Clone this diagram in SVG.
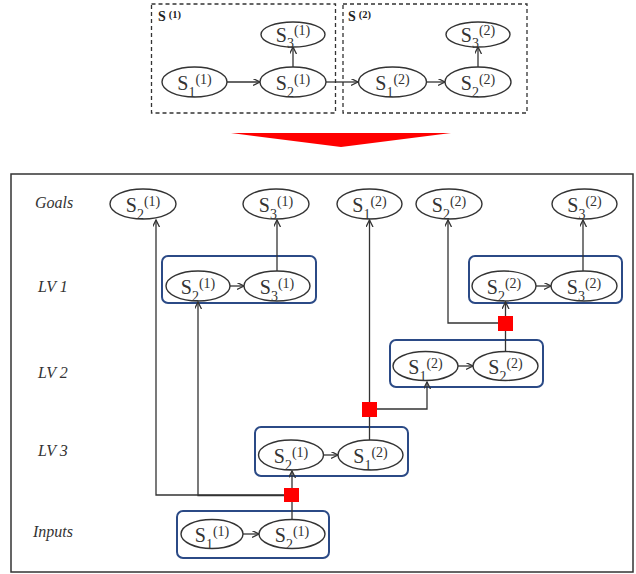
<svg xmlns="http://www.w3.org/2000/svg" width="636" height="574" viewBox="0 0 636 574">
<style>
.el{fill:#fff;stroke:#333;stroke-width:1.4}
.lv{fill:none;stroke:#2b4a86;stroke-width:2}
.dash{fill:none;stroke:#333;stroke-width:1.3;stroke-dasharray:4,3}
.ln{fill:none;stroke:#333;stroke-width:1.3}
.nt{font-family:"Liberation Serif",serif;font-size:20px;fill:#333;text-anchor:middle}
.sm{font-size:14px}
.rl{font-family:"Liberation Serif",serif;font-style:italic;font-size:16px;fill:#333}
.bt{font-family:"Liberation Serif",serif;font-weight:bold;font-size:14px;fill:#222}
.bs{font-size:10.5px}
.red{fill:#ff0000}
</style>
<defs>
<marker id="ar" markerUnits="userSpaceOnUse" markerWidth="10" markerHeight="10" refX="7" refY="3.5" orient="auto">
<path d="M0,0 L7,3.5 L0,7" fill="none" stroke="#333" stroke-width="1.3"/>
</marker>
</defs>

<!-- top section -->
<g id="top-s1-box">
<rect class="dash" x="151.5" y="4" width="184" height="109"/>
<text class="bt" x="158" y="21">S<tspan class="bs" dx="3" dy="-3">(1)</tspan></text>
</g>
<g id="top-s2-box">
<rect class="dash" x="343" y="4" width="184" height="109"/>
<text class="bt" x="348" y="21">S<tspan class="bs" dx="3" dy="-3">(2)</tspan></text>
</g>

<g id="connectors-top">
<path class="ln" d="M227,82 H260" marker-end="url(#ar)"/>
<path class="ln" d="M293,67 V47" marker-end="url(#ar)"/>
<path class="ln" d="M326,82 H358" marker-end="url(#ar)"/>
<path class="ln" d="M426,82 H445" marker-end="url(#ar)"/>
<path class="ln" d="M478,67 V47" marker-end="url(#ar)"/>
</g>

<g id="t-s1-1"><ellipse class="el" cx="194.5" cy="82" rx="32.5" ry="15"/><text class="nt" x="194.5" y="90">S<tspan class="sm" dy="6.5">1</tspan><tspan class="sm" dy="-13">(1)</tspan></text></g>
<g id="t-s2-1"><ellipse class="el" cx="293" cy="82" rx="33" ry="15"/><text class="nt" x="293" y="90">S<tspan class="sm" dy="6.5">2</tspan><tspan class="sm" dy="-13">(1)</tspan></text></g>
<g id="t-s3-1"><ellipse class="el" cx="293" cy="34.5" rx="32" ry="12.5"/><text class="nt" x="293" y="42">S<tspan class="sm" dy="6">3</tspan><tspan class="sm" dy="-13">(1)</tspan></text></g>
<g id="t-s1-2"><ellipse class="el" cx="392.5" cy="82" rx="34" ry="15"/><text class="nt" x="392.5" y="90">S<tspan class="sm" dy="6.5">1</tspan><tspan class="sm" dy="-13">(2)</tspan></text></g>
<g id="t-s2-2"><ellipse class="el" cx="478" cy="82" rx="33" ry="15"/><text class="nt" x="478" y="90">S<tspan class="sm" dy="6.5">2</tspan><tspan class="sm" dy="-13">(2)</tspan></text></g>
<g id="t-s3-2"><ellipse class="el" cx="478" cy="34.5" rx="32" ry="12.5"/><text class="nt" x="478" y="42">S<tspan class="sm" dy="6">3</tspan><tspan class="sm" dy="-13">(2)</tspan></text></g>

<polygon id="big-arrow" class="red" points="231,133 451,133 341,147"/>

<!-- main frame -->
<rect id="frame" x="11" y="174" width="622" height="398" fill="none" stroke="#333" stroke-width="1.5"/>

<g id="row-labels">
<text class="rl" x="35" y="208">Goals</text>
<text class="rl" x="38" y="292">LV 1</text>
<text class="rl" x="38" y="378">LV 2</text>
<text class="rl" x="38" y="456">LV 3</text>
<text class="rl" x="33" y="537">Inputs</text>
</g>

<g id="lv-boxes">
<rect id="lv1-a" class="lv" x="162" y="256" width="154" height="47" rx="6"/>
<rect id="lv1-b" class="lv" x="469" y="256" width="153" height="47" rx="6"/>
<rect id="lv2" class="lv" x="390" y="340" width="153" height="47" rx="6"/>
<rect id="lv3" class="lv" x="255" y="427" width="153" height="49" rx="6"/>
<rect id="inputs" class="lv" x="177" y="511" width="152" height="47" rx="6"/>
</g>

<g id="connectors">
<path class="ln" d="M291,495 H156 V220" marker-end="url(#ar)"/>
<path class="ln" d="M291,495.5 H198 V302" marker-end="url(#ar)"/>
<path class="ln" d="M292,519 V471" marker-end="url(#ar)"/>
<path class="ln" d="M369.5,440 V220" marker-end="url(#ar)"/>
<path class="ln" d="M369.5,409 H427 V382" marker-end="url(#ar)"/>
<path class="ln" d="M505.5,352 V302" marker-end="url(#ar)"/>
<path class="ln" d="M505.5,323 H448 V220" marker-end="url(#ar)"/>
<path class="ln" d="M277,271 V220" marker-end="url(#ar)"/>
<path class="ln" d="M583,271 V220" marker-end="url(#ar)"/>
<path class="ln" d="M230,286 H244" marker-end="url(#ar)"/>
<path class="ln" d="M536,286 H551" marker-end="url(#ar)"/>
<path class="ln" d="M458,366 H473" marker-end="url(#ar)"/>
<path class="ln" d="M323,455 H338" marker-end="url(#ar)"/>
<path class="ln" d="M243,534 H259" marker-end="url(#ar)"/>
</g>

<g id="factors">
<rect id="f1" class="red" x="284" y="488" width="15" height="14"/>
<rect id="f2" class="red" x="362" y="402" width="15" height="15"/>
<rect id="f3" class="red" x="498" y="316" width="15" height="15"/>
</g>

<!-- goals -->
<g id="g-s2-1"><ellipse class="el" cx="143" cy="204" rx="33" ry="15"/><text class="nt" x="143" y="212">S<tspan class="sm" dy="6.5">2</tspan><tspan class="sm" dy="-13">(1)</tspan></text></g>
<g id="g-s3-1"><ellipse class="el" cx="276" cy="204" rx="33" ry="15"/><text class="nt" x="276" y="212">S<tspan class="sm" dy="6.5">3</tspan><tspan class="sm" dy="-13">(1)</tspan></text></g>
<g id="g-s1-2"><ellipse class="el" cx="369.5" cy="204" rx="32.5" ry="15"/><text class="nt" x="369.5" y="212">S<tspan class="sm" dy="6.5">1</tspan><tspan class="sm" dy="-13">(2)</tspan></text></g>
<g id="g-s2-2"><ellipse class="el" cx="449" cy="204" rx="33" ry="15"/><text class="nt" x="449" y="212">S<tspan class="sm" dy="6.5">2</tspan><tspan class="sm" dy="-13">(2)</tspan></text></g>
<g id="g-s3-2"><ellipse class="el" cx="584.5" cy="204" rx="32.5" ry="15"/><text class="nt" x="584.5" y="212">S<tspan class="sm" dy="6.5">3</tspan><tspan class="sm" dy="-13">(2)</tspan></text></g>

<!-- LV1 -->
<g id="l1-s2-1"><ellipse class="el" cx="198" cy="286" rx="32" ry="15"/><text class="nt" x="198" y="294">S<tspan class="sm" dy="6.5">2</tspan><tspan class="sm" dy="-13">(1)</tspan></text></g>
<g id="l1-s3-1"><ellipse class="el" cx="277" cy="286" rx="33" ry="15"/><text class="nt" x="277" y="294">S<tspan class="sm" dy="6.5">3</tspan><tspan class="sm" dy="-13">(1)</tspan></text></g>
<g id="l1-s2-2"><ellipse class="el" cx="504" cy="286" rx="32" ry="15"/><text class="nt" x="504" y="294">S<tspan class="sm" dy="6.5">2</tspan><tspan class="sm" dy="-13">(2)</tspan></text></g>
<g id="l1-s3-2"><ellipse class="el" cx="584" cy="286" rx="33" ry="15"/><text class="nt" x="584" y="294">S<tspan class="sm" dy="6.5">3</tspan><tspan class="sm" dy="-13">(2)</tspan></text></g>

<!-- LV2 -->
<g id="l2-s1-2"><ellipse class="el" cx="425.5" cy="366" rx="32.5" ry="14.5"/><text class="nt" x="425.5" y="374">S<tspan class="sm" dy="6.5">1</tspan><tspan class="sm" dy="-13">(2)</tspan></text></g>
<g id="l2-s2-2"><ellipse class="el" cx="505.5" cy="366" rx="32.5" ry="14.5"/><text class="nt" x="505.5" y="374">S<tspan class="sm" dy="6.5">2</tspan><tspan class="sm" dy="-13">(2)</tspan></text></g>

<!-- LV3 -->
<g id="l3-s2-1"><ellipse class="el" cx="291" cy="455" rx="32.5" ry="15"/><text class="nt" x="291" y="463">S<tspan class="sm" dy="6.5">2</tspan><tspan class="sm" dy="-13">(1)</tspan></text></g>
<g id="l3-s1-2"><ellipse class="el" cx="370.5" cy="455" rx="32.5" ry="15"/><text class="nt" x="370.5" y="463">S<tspan class="sm" dy="6.5">1</tspan><tspan class="sm" dy="-13">(2)</tspan></text></g>

<!-- Inputs -->
<g id="in-s1-1"><ellipse class="el" cx="212" cy="534" rx="31" ry="14.5"/><text class="nt" x="212" y="542">S<tspan class="sm" dy="6.5">1</tspan><tspan class="sm" dy="-13">(1)</tspan></text></g>
<g id="in-s2-1"><ellipse class="el" cx="292" cy="534" rx="33" ry="14.5"/><text class="nt" x="292" y="542">S<tspan class="sm" dy="6.5">2</tspan><tspan class="sm" dy="-13">(1)</tspan></text></g>
</svg>
